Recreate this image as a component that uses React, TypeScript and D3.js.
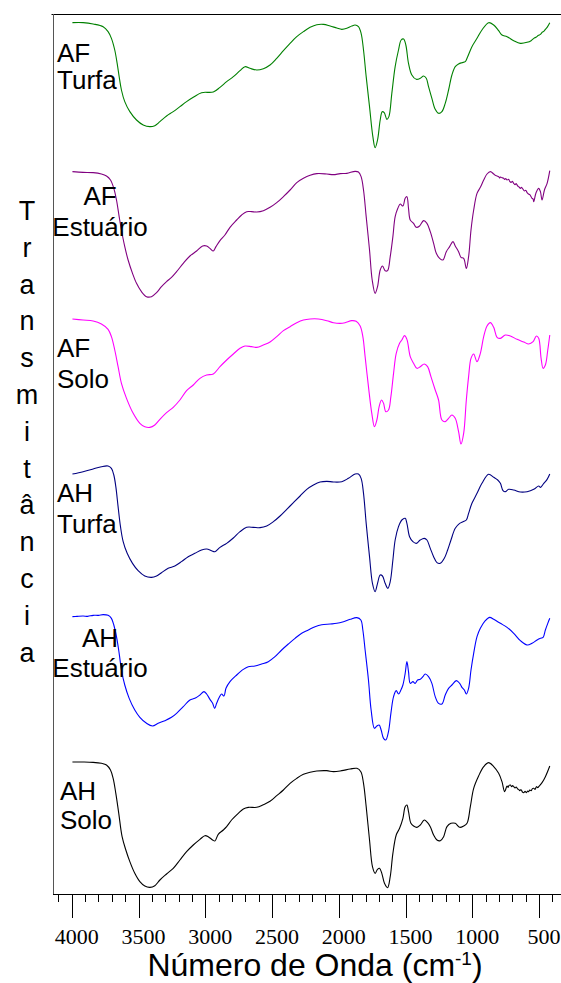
import React from "react";
import * as d3 from "d3";

type Pt = [number, number];

// FTIR spectra: [wavenumber (cm-1), transmittance (a.u.)]
const AF_TURFA: Pt[] = [
  [3995, 412], [3915, 412], [3840, 408], [3765, 400], [3728, 385], [3703, 365], [3678, 330], [3660, 290],
  [3645, 250], [3628, 210], [3603, 175], [3565, 145], [3515, 120], [3465, 105], [3415, 100], [3378, 103],
  [3340, 115], [3290, 132], [3240, 145], [3190, 160], [3140, 175], [3090, 188], [3028, 202], [2940, 204],
  [2890, 218], [2840, 235], [2790, 250], [2740, 268], [2703, 280], [2665, 275], [2615, 270], [2565, 274],
  [2515, 285], [2465, 305], [2415, 328], [2365, 350], [2315, 370], [2265, 385], [2215, 398], [2165, 406],
  [2115, 407], [2065, 402], [2015, 396], [1978, 392], [1940, 395], [1903, 402], [1878, 405], [1853, 400],
  [1833, 380], [1815, 330], [1795, 250], [1770, 160], [1745, 70], [1728, 37], [1710, 60], [1690, 120],
  [1675, 145], [1660, 142], [1640, 122], [1625, 130], [1603, 200], [1578, 280], [1553, 330], [1533, 360],
  [1515, 363], [1498, 345], [1478, 290], [1453, 255], [1420, 242], [1390, 245], [1365, 252], [1345, 245],
  [1328, 220], [1303, 185], [1278, 152], [1253, 140], [1228, 145], [1203, 170], [1178, 210], [1153, 255],
  [1128, 280], [1103, 288], [1078, 292], [1053, 295], [1035, 310], [1003, 340], [965, 365], [928, 390],
  [878, 412], [840, 405], [803, 388], [778, 375], [740, 370], [690, 358], [640, 350], [590, 353],
  [560, 358], [540, 365], [520, 369], [505, 374], [490, 377], [475, 384], [465, 386], [453, 392], [440, 398],
  [420, 412],
];

const AF_ESTUARIO: Pt[] = [
  [3995, 415], [3915, 413], [3840, 412], [3778, 408], [3740, 402], [3710, 390], [3685, 365], [3665, 330],
  [3645, 280], [3628, 240], [3603, 190], [3578, 150], [3545, 110], [3515, 80], [3478, 55], [3440, 40],
  [3403, 40], [3365, 52], [3328, 70], [3290, 85], [3253, 98], [3215, 115], [3165, 140], [3115, 162],
  [3065, 177], [3020, 192], [2990, 192], [2965, 185], [2940, 177], [2920, 190], [2890, 208], [2853, 225],
  [2815, 248], [2765, 270], [2728, 285], [2690, 295], [2653, 295], [2615, 294], [2565, 298], [2515, 308],
  [2465, 322], [2415, 340], [2365, 360], [2315, 382], [2265, 395], [2215, 404], [2165, 409], [2090, 408],
  [2040, 406], [1990, 409], [1940, 410], [1878, 416], [1853, 414], [1833, 400], [1815, 360], [1795, 280],
  [1770, 180], [1750, 90], [1728, 50], [1710, 70], [1690, 120], [1673, 132], [1653, 118], [1635, 118],
  [1615, 160], [1595, 220], [1578, 280], [1558, 305], [1540, 318], [1520, 312], [1503, 335], [1490, 340],
  [1478, 305], [1465, 270], [1440, 260], [1420, 248], [1395, 252], [1365, 268], [1340, 260], [1315, 235],
  [1290, 200], [1270, 170], [1245, 155], [1220, 150], [1195, 175], [1170, 190], [1145, 205], [1128, 192],
  [1103, 175], [1085, 158], [1065, 155], [1045, 125], [1028, 160], [1010, 240], [990, 300], [965, 350],
  [940, 368], [915, 390], [890, 408], [865, 415], [840, 408], [828, 404], [815, 402], [803, 400],
  [795, 396], [790, 399], [778, 397], [765, 395], [758, 392], [750, 394], [740, 390], [728, 392],
  [720, 386], [710, 383], [700, 386], [690, 380], [680, 376], [672, 379], [660, 372], [650, 369],
  [640, 365], [632, 368], [620, 362], [610, 357], [600, 359], [590, 352], [580, 348], [570, 346],
  [560, 340], [553, 335], [545, 333], [540, 325], [523, 352], [503, 365], [490, 355], [478, 330],
  [460, 360], [440, 380], [420, 418],
];

const AF_SOLO: Pt[] = [
  [3995, 423], [3915, 420], [3840, 417], [3778, 408], [3728, 392], [3703, 370], [3678, 330], [3653, 280],
  [3628, 230], [3590, 185], [3540, 140], [3490, 110], [3453, 100], [3415, 98], [3378, 105], [3340, 122],
  [3290, 142], [3240, 158], [3190, 180], [3140, 208], [3090, 225], [3040, 245], [2990, 255], [2940, 258],
  [2890, 280], [2840, 300], [2790, 318], [2740, 335], [2703, 342], [2653, 340], [2615, 338], [2565, 345],
  [2515, 354], [2465, 370], [2415, 388], [2365, 400], [2315, 412], [2265, 420], [2215, 423], [2153, 423],
  [2090, 418], [2040, 412], [1990, 410], [1953, 412], [1903, 418], [1870, 416], [1840, 402], [1820, 370],
  [1803, 310], [1778, 220], [1753, 140], [1733, 100], [1715, 120], [1698, 160], [1680, 180], [1665, 170],
  [1648, 145], [1628, 150], [1610, 190], [1590, 260], [1570, 320], [1545, 350], [1528, 360], [1508, 373],
  [1490, 362], [1465, 310], [1440, 290], [1415, 275], [1390, 280], [1360, 288], [1335, 280], [1310, 250],
  [1278, 210], [1253, 180], [1228, 120], [1203, 115], [1178, 125], [1153, 135], [1128, 125], [1103, 85],
  [1085, 48], [1065, 80], [1045, 180], [1028, 250], [1010, 305], [990, 318], [965, 295], [940, 320],
  [915, 370], [890, 402], [865, 412], [840, 398], [815, 368], [790, 365], [753, 375], [715, 372],
  [665, 362], [615, 354], [578, 348], [545, 355], [520, 372], [503, 365], [485, 305], [470, 275],
  [453, 285], [435, 330], [420, 375],
];

const AH_TURFA: Pt[] = [
  [3995, 408], [3915, 415], [3840, 423], [3778, 430], [3728, 432], [3703, 425], [3685, 405], [3670, 370],
  [3653, 310], [3635, 250], [3615, 205], [3585, 170], [3545, 140], [3503, 118], [3453, 102], [3403, 98],
  [3365, 102], [3328, 112], [3278, 125], [3228, 132], [3178, 145], [3128, 160], [3078, 170], [3028, 180],
  [2990, 183], [2953, 178], [2928, 175], [2890, 188], [2840, 200], [2790, 216], [2740, 235], [2690, 248],
  [2640, 248], [2590, 247], [2540, 252], [2490, 265], [2440, 282], [2390, 302], [2340, 322], [2290, 342],
  [2240, 362], [2190, 375], [2140, 384], [2090, 386], [2040, 384], [1978, 385], [1928, 395], [1878, 408],
  [1853, 408], [1833, 395], [1815, 350], [1795, 260], [1770, 160], [1748, 80], [1728, 55], [1710, 80],
  [1690, 105], [1673, 102], [1653, 80], [1633, 65], [1615, 85], [1595, 150], [1578, 210], [1553, 250],
  [1528, 270], [1503, 275], [1490, 260], [1470, 220], [1445, 205], [1420, 200], [1390, 210], [1360, 215],
  [1340, 210], [1315, 185], [1290, 160], [1265, 142], [1240, 140], [1210, 155], [1185, 180], [1160, 210],
  [1128, 245], [1095, 260], [1070, 265], [1045, 270], [1028, 290], [1003, 320], [965, 350], [928, 380],
  [878, 407], [840, 398], [810, 390], [790, 380], [770, 358], [753, 355], [728, 362], [690, 360],
  [640, 354], [590, 355], [540, 362], [503, 372], [490, 368], [465, 380], [440, 392], [420, 408],
];

const AH_ESTUARIO: Pt[] = [
  [3995, 430], [3960, 431], [3915, 432], [3880, 431], [3840, 434], [3800, 434], [3765, 436], [3728, 434],
  [3703, 425], [3685, 405], [3665, 370], [3645, 320], [3628, 270], [3603, 225], [3570, 185], [3528, 150],
  [3490, 128], [3440, 110], [3395, 102], [3353, 110], [3303, 118], [3253, 128], [3215, 140], [3165, 160],
  [3115, 180], [3078, 185], [3040, 195], [3010, 205], [2990, 198], [2965, 182], [2945, 170], [2930, 155],
  [2915, 170], [2895, 188], [2878, 198], [2860, 192], [2845, 215], [2815, 235], [2765, 255], [2715, 272],
  [2678, 280], [2628, 282], [2578, 288], [2528, 295], [2478, 310], [2428, 330], [2378, 348], [2328, 365],
  [2278, 380], [2228, 390], [2178, 400], [2128, 406], [2065, 408], [2015, 410], [1965, 415], [1915, 422],
  [1865, 427], [1835, 420], [1820, 390], [1803, 330], [1778, 240], [1758, 150], [1733, 95], [1715, 102],
  [1698, 105], [1683, 90], [1665, 65], [1648, 60], [1628, 85], [1610, 140], [1590, 190], [1570, 208],
  [1553, 198], [1535, 210], [1520, 225], [1503, 260], [1490, 295], [1478, 265], [1465, 230], [1445, 235],
  [1428, 230], [1410, 240], [1390, 242], [1370, 250], [1353, 258], [1328, 250], [1303, 230], [1278, 190],
  [1253, 170], [1228, 168], [1203, 195], [1178, 215], [1153, 225], [1120, 238], [1095, 230], [1078, 218],
  [1060, 210], [1045, 198], [1028, 215], [1010, 270], [990, 320], [965, 370], [940, 395], [903, 418],
  [870, 428], [840, 422], [790, 410], [740, 398], [690, 380], [640, 358], [590, 345], [553, 350],
  [515, 360], [490, 365], [470, 368], [453, 390], [435, 410], [420, 425],
];

const AH_SOLO: Pt[] = [
  [3995, 414], [3915, 414], [3840, 413], [3778, 410], [3740, 405], [3710, 390], [3690, 365], [3670, 320],
  [3648, 260], [3623, 190], [3595, 150], [3565, 115], [3528, 80], [3490, 55], [3453, 42], [3415, 38],
  [3378, 43], [3340, 60], [3290, 78], [3240, 95], [3190, 120], [3140, 145], [3090, 165], [3040, 182],
  [3003, 193], [2978, 190], [2945, 180], [2928, 177], [2903, 197], [2865, 210], [2840, 220], [2803, 240],
  [2753, 260], [2715, 273], [2678, 278], [2615, 278], [2565, 286], [2515, 296], [2465, 313], [2415, 330],
  [2365, 350], [2315, 365], [2265, 377], [2215, 383], [2165, 387], [2090, 388], [2040, 385], [1978, 388],
  [1915, 393], [1865, 395], [1835, 385], [1815, 350], [1795, 280], [1770, 180], [1748, 100], [1728, 80],
  [1710, 92], [1695, 95], [1678, 80], [1658, 50], [1635, 37], [1615, 70], [1595, 140], [1570, 195],
  [1545, 215], [1520, 245], [1503, 280], [1490, 285], [1478, 265], [1460, 230], [1440, 222], [1415, 218],
  [1390, 225], [1360, 240], [1335, 232], [1315, 220], [1290, 195], [1265, 180], [1240, 178], [1215, 190],
  [1190, 220], [1160, 230], [1128, 230], [1095, 218], [1065, 222], [1040, 230], [1015, 280], [990, 335],
  [953, 372], [915, 400], [878, 412], [840, 400], [803, 380], [778, 355], [758, 325], [740, 342],
  [732, 338], [725, 344], [715, 345], [705, 340], [698, 343], [690, 340], [680, 336], [672, 339],
  [660, 333], [653, 332], [645, 328], [635, 331], [625, 324], [615, 322], [605, 326], [595, 322],
  [585, 327], [578, 325], [570, 330], [560, 328], [550, 334], [540, 335], [530, 332], [520, 340],
  [510, 337], [503, 340], [478, 352], [453, 370], [420, 402],
];

const SPECTRA: Pt[][] = [AF_TURFA, AF_ESTUARIO, AF_SOLO, AH_TURFA, AH_ESTUARIO, AH_SOLO];
const SAMPLE_NAMES: string[][] = [
  ["AF", "Turfa"],
  ["AF", "Estuário"],
  ["AF", "Solo"],
  ["AH", "Turfa"],
  ["AH", "Estuário"],
  ["AH", "Solo"],
];
// vertical stacking offset of each spectrum (a.u.)
const STACK_OFFSETS = [2202, 1752, 1302, 852, 402, -18];
const SERIES_COLORS = ["#008000", "#800080", "#ff00ff", "#000080", "#0000ff", "#000000"];
const MAJOR_TICKS = [4000, 3500, 3000, 2500, 2000, 1500, 1000, 500];
const MINOR_TICKS = [
  4100, 4000, 3900, 3800, 3700, 3600, 3500, 3400, 3300, 3200, 3100, 3000, 2900, 2800, 2700, 2600, 2500, 2400,
  2300, 2200, 2100, 2000, 1900, 1800, 1700, 1600, 1500, 1400, 1300, 1200, 1100, 1000, 900, 800, 700, 600,
  500, 400,
];
const Y_TITLE = "Transmitância";

const W = 561;
const H = 983;
const PLOT = { left: 54, right: 561, top: 14, bottom: 894 };

// label layout for each spectrum: anchor x, anchor mode, baselines of the two lines
const LABEL_LAYOUT = [
  { x: 57, anchor: "start", y: [62, 89] },
  { x: 100, anchor: "middle", y: [205, 236] },
  { x: 57, anchor: "start", y: [357, 388] },
  { x: 57, anchor: "start", y: [502, 533] },
  { x: 100, anchor: "middle", y: [647, 677] },
  { x: 60, anchor: "start", y: [800, 829] },
];

const SANS = "'Liberation Sans', Arial, sans-serif";
const SERIF = "'Liberation Serif', 'DejaVu Serif', 'Times New Roman', serif";

export default function App() {
  const x = d3.scaleLinear().domain([4133, 336]).range([PLOT.left, PLOT.right]);
  const y = d3.scaleLinear().domain([0, 2640]).range([PLOT.bottom, PLOT.top]);

  return (
    <svg
      width={W}
      height={H}
      viewBox={`0 0 ${W} ${H}`}
      style={{ position: "absolute", left: 0, top: 0, background: "#fff" }}
    >
      <rect x={0} y={0} width={W} height={H} fill="#fff" />
      {/* frame */}
      <line x1={51.5} x2={W} y1={PLOT.top + 0.5} y2={PLOT.top + 0.5} stroke="#000" strokeWidth={1} />
      <line x1={PLOT.left - 0.5} x2={PLOT.left - 0.5} y1={PLOT.top} y2={PLOT.bottom} stroke="#555" strokeWidth={1} />
      <line x1={PLOT.left - 1} x2={W} y1={PLOT.bottom + 0.5} y2={PLOT.bottom + 0.5} stroke="#000" strokeWidth={1} />

      {/* spectra */}
      {SPECTRA.map((data, i) => {
        const line = d3
          .line<Pt>()
          .x((d) => x(d[0]))
          .y((d) => y(STACK_OFFSETS[i] + d[1]))
          .curve(d3.curveCatmullRom.alpha(0.5));
        return (
          <path key={i} d={line(data) ?? ""} fill="none" stroke={SERIES_COLORS[i]} strokeWidth={1.1} />
        );
      })}

      {/* sample labels */}
      {SAMPLE_NAMES.map((lines, i) => (
        <text
          key={i}
          style={{ fontFamily: SANS, fontSize: "26px" }}
          fill="#000"
          textAnchor={LABEL_LAYOUT[i].anchor as any}
        >
          {lines.map((s, j) => (
            <tspan key={j} x={LABEL_LAYOUT[i].x} y={LABEL_LAYOUT[i].y[j]}>
              {s}
            </tspan>
          ))}
        </text>
      ))}

      {/* x axis ticks */}
      {MINOR_TICKS.map((t) => (
        <line
          key={"m" + t}
          x1={Math.round(x(t)) + 0.5}
          x2={Math.round(x(t)) + 0.5}
          y1={PLOT.bottom}
          y2={PLOT.bottom + 8}
          stroke="#000"
          strokeWidth={1}
        />
      ))}
      {MAJOR_TICKS.map((t) => (
        <g key={"M" + t}>
          <line
            x1={Math.round(x(t)) + 0.5}
            x2={Math.round(x(t)) + 0.5}
            y1={PLOT.bottom}
            y2={PLOT.bottom + 24}
            stroke="#000"
            strokeWidth={1}
          />
          <text
            x={x(t) + 5}
            y={944}
            textAnchor="middle"
            style={{ fontFamily: SERIF, fontSize: "22px" }}
            fill="#000"
          >
            {t}
          </text>
        </g>
      ))}

      {/* x axis title */}
      <text x={315} y={976} textAnchor="middle" style={{ fontFamily: SANS, fontSize: "32px" }} fill="#000">
        Número de Onda (cm
        <tspan style={{ fontSize: "19px" }} dy={-11}>
          -1
        </tspan>
        <tspan dy={11}>)</tspan>
      </text>

      {/* y axis title, stacked letters */}
      {Array.from(Y_TITLE).map((ch, k) => (
        <text
          key={k}
          x={27}
          y={220 + k * 36.8}
          textAnchor="middle"
          style={{ fontFamily: SANS, fontSize: "27px" }}
          fill="#000"
        >
          {ch}
        </text>
      ))}
    </svg>
  );
}
